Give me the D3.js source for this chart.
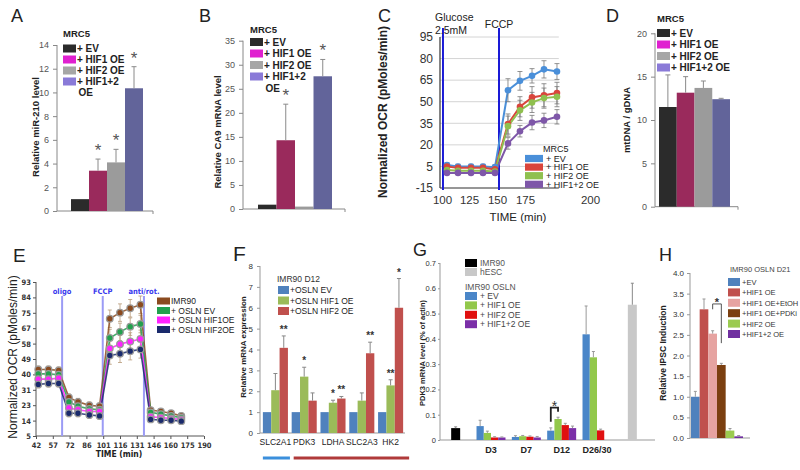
<!DOCTYPE html>
<html><head><meta charset="utf-8">
<script src="https://cdn.jsdelivr.net/npm/d3@7"></script>
<style>body{margin:0;background:#fff}svg{display:block;background:#fff}</style>
</head><body><svg id="chart" width="800" height="470"></svg>
<script>
// ================= DATA =================
// Panels A, B, D (MRC5)
const mrcGroups = ["+ EV", "+ HIF1 OE", "+ HIF2 OE", "+ HIF1+2 OE"];
const mrcBarColors = ["#2b2b2b", "#9a2a5c", "#9b9b9b", "#62649a"];
const mrcSwatchColors = ["#2b2b2b", "#e020d0", "#a6a6a6", "#8a7ad8"];

const mir210Values = [1.0, 3.4, 4.1, 10.35];
const mir210Errors = [0, 0.98, 1.1, 1.82];
const mir210Stars = ["", "*", "*", "*"];
const mir210Ticks = [0, 2, 4, 6, 8, 10, 12, 14];

const ca9Values = [0.9, 14.3, 0.5, 27.6];
const ca9Errors = [0, 7.5, 0, 3.5];
const ca9Stars = ["", "*", "", "*"];
const ca9Ticks = [0, 5, 10, 15, 20, 25, 30, 35];

const mtdnaValues = [11.5, 13.15, 13.7, 12.4];
const mtdnaErrors = [3.7, 1.85, 0.8, 0.1];
const mtdnaTicks = [0, 5, 10, 15, 20];

// Panel C (OCR, MRC5)
const ocrTimes = [104.6, 114.8, 126.8, 137.5, 148.2, 159.8, 170.5, 177.7, 182.3, 187.3];
const ocrEV = [6, 5, 5, 5, 4.5, 58, 64.5, 68, 72.5, 71];
const ocrHIF1 = [5, 4, 4, 4, 3, 34.5, 46.5, 53, 54.5, 56];
const ocrHIF2 = [2.5, 2, 2, 2, 1.5, 33, 44, 49.5, 52.5, 53.5];
const ocrHIF12 = [0.5, 0.5, 0.5, 0.5, 0.5, 21, 29.5, 35.5, 37, 39.5];
const ocrEVErr = [1.5, 1.5, 1.5, 1.5, 1.5, 8, 6.5, 5, 6, 5.5];
const ocrHIF1Err = [1.5, 1.5, 1.5, 1.5, 1.5, 7, 7, 7.5, 8, 7.5];
const ocrHIF2Err = [1, 1, 1, 1, 1, 7, 7, 7, 7, 7];
const ocrHIF12Err = [1, 1, 1, 1, 1, 4, 4, 5, 5, 5];
const ocrSeries = ["+ EV", "+ HIF1 OE", "+ HIF2 OE", "+ HIF1+2 OE"];
const ocrColors = ["#4a8fd9", "#d9453c", "#8fc04f", "#7e57a8"];
const ocrXTicks = [100, 125, 150, 175, 200];
const ocrYTicks = [95, 80, 65, 50, 35, 20, 5, -10];
const ocrYLabels = ["95", "80", "65", "50", "35", "20", "5", "-15"];
const ocrInjNames = ["Glucose", "FCCP"];
const ocrInjTimes = [100.9, 151.8];

// Panel E (OCR, IMR90 OSLN)
const eTimes = [44, 53, 62, 71, 79, 89, 98, 107, 116, 125, 134, 143, 152, 161, 170];
const eIMR90 = [43, 43, 42.5, 27, 24.5, 22.5, 22, 72, 75.5, 78, 80, 19.8, 19, 18, 16.5];
const eEV = [40.5, 40.5, 40, 24.5, 22, 20.5, 20, 61, 64.5, 67.5, 69, 18.5, 17.5, 16.5, 15.5];
const eHIF1 = [37.5, 37.5, 38, 21, 20, 19, 19, 55, 57.5, 59, 60.5, 16, 15.5, 15, 14.5];
const eHIF2 = [34.5, 35, 35, 18, 18, 17, 16.5, 51, 52, 53.5, 54.5, 14.5, 14, 14, 13.5];
const eErr = [2, 2, 2, 2, 2, 2, 2, 5, 5, 5, 5, 1.5, 1.5, 1.5, 1.5];
const eSeries = ["IMR90", "+ OSLN EV", "+ OSLN HIF1OE", "+ OSLN HIF2OE"];
const eColors = ["#8b4a1f", "#22a04e", "#ff22ff", "#1a2a6c"];
const eXTicks = [42, 56.8, 71.6, 86.4, 101.2, 116, 130.8, 145.6, 160.4, 175.2, 190];
const eYTicks = [5, 13.8, 22.6, 31.4, 40.2, 49, 57.8, 66.6, 75.4, 84.2, 93];
const eInjNames = ["oligo", "FCCP", "anti/rot."];
const eInjTimes = [65, 100.8, 137.1];

// Panel F
const fGenes = ["SLC2A1", "PDK3", "LDHA", "SLC2A3", "HK2"];
const fSeries = ["+OSLN EV", "+OSLN HIF1 OE", "+OSLN HIF2 OE"];
const fEV = [1, 1, 1, 1, 1];
const fHIF1 = [2.05, 2.7, 1.45, 1.55, 2.28];
const fHIF2 = [4.08, 1.55, 1.65, 3.82, 6.0];
const fEVErr = [0, 0, 0, 0, 0];
const fHIF1Err = [0.8, 0.45, 0.12, 0.37, 0.27];
const fHIF2Err = [0.57, 0.37, 0.1, 0.53, 1.4];
const fEVStars = ["", "", "", "", ""];
const fHIF1Stars = ["", "*", "*", "", "**"];
const fHIF2Stars = ["**", "", "**", "**", "*"];
const fColors = ["#4f81bd", "#9bbb59", "#c0504d"];
const fTicks = [0, 1, 2, 3, 4, 5, 6, 7, 8];

// Panel G
const gCats = ["IMR90", "D3", "D7", "D12", "D26/30", "hESC"];
const gDays = ["D3", "D7", "D12", "D26/30"];
const gSeries = ["+ EV", "+ HIF1 OE", "+ HIF2 OE", "+ HIF1+2 OE"];
const gEV = [0.055, 0.012, 0.037, 0.418];
const gHIF1 = [0.028, 0.015, 0.083, 0.327];
const gHIF2 = [0.01, 0.013, 0.059, 0.038];
const gHIF12 = [0.01, 0.01, 0.047, null];
const gEVErr = [0.023, 0.005, 0.011, 0.112];
const gHIF1Err = [0.007, 0.003, 0.007, 0.023];
const gHIF2Err = [0.003, 0.003, 0.007, 0.005];
const gHIF12Err = [0.002, 0.004, 0.008, null];
const gIMR90 = 0.047, gIMR90Err = 0.005;
const gHESC = 0.535, gHESCErr = 0.085;
const gColors = ["#4a86c8", "#92c84b", "#e01010", "#7b2fa8"];
const gTicks = [0, 0.1, 0.2, 0.3, 0.4, 0.5, 0.6, 0.7];

// Panel H
const hGroups = ["+EV", "+HIF1 OE", "+HIF1 OE+EtOH", "+HIF1 OE+PDKi", "+HIF2 OE", "+HIF1+2 OE"];
const hValues = [1.0, 3.12, 2.53, 1.77, 0.18, 0.04];
const hErrors = [0.13, 0.25, 0.07, 0.04, 0.05, 0.02];
const hColors = ["#4f81bd", "#c0504d", "#e6a3a1", "#7b3f10", "#9bcb50", "#7030a0"];
const hTicks = [0, 0.5, 1, 1.5, 2, 2.5, 3, 3.5, 4];

// ================= HELPERS =================
const svg = d3.select("#chart");
const SANS = '"Liberation Sans", Arial, Helvetica, sans-serif';
const NARROW = '"Liberation Sans Narrow", "Arial Narrow", "DejaVu Sans Condensed", "Liberation Sans", sans-serif';

function txt(g, x, y, s, o = {}) {
  return g.append("text").attr("x", x).attr("y", y).text(s)
    .attr("font-family", o.ff || SANS).attr("font-size", o.fs || 10)
    .attr("font-weight", o.fw || "normal").attr("fill", o.fill || "#222")
    .attr("text-anchor", o.anchor || "start");
}
function vtxt(g, x, y, s, o = {}) {
  return g.append("text").attr("transform", `translate(${x},${y}) rotate(-90)`)
    .attr("text-anchor", "middle").attr("dy", "0.35em").text(s)
    .attr("font-family", o.ff || SANS).attr("font-size", o.fs || 10)
    .attr("font-weight", o.fw || "bold").attr("fill", o.fill || "#222");
}
function styleAxis(sel, o = {}) {
  sel.select(".domain").remove();
  sel.selectAll(".tick line").attr("stroke", o.stroke || "#888");
  sel.selectAll(".tick text").attr("font-family", o.ff || SANS).attr("font-size", o.fs || 9)
    .attr("font-weight", o.fw || "normal").attr("fill", o.fill || "#444");
}
function hline(g, x1, x2, y, c, w = 1) {
  g.append("line").attr("x1", x1).attr("x2", x2).attr("y1", y).attr("y2", y).attr("stroke", c).attr("stroke-width", w);
}
function vline(g, x, y1, y2, c, w = 1) {
  g.append("line").attr("x1", x).attr("x2", x).attr("y1", y1).attr("y2", y2).attr("stroke", c).attr("stroke-width", w);
}
function errUp(g, cx, y1, y2, cap, c, w = 1) { vline(g, cx, y1, y2, c, w); hline(g, cx - cap / 2, cx + cap / 2, y2, c, w); }
function letter(s, x, y, fs = 18) { txt(svg, x, y, s, { fs: fs, fill: "#222" }); }

// ================= PANELS A, B, D =================
function mrcPanel(o) {
  const g = svg.append("g");
  const y = d3.scaleLinear().domain([0, o.ticks[o.ticks.length - 1]]).range([o.y0, o.yTop]);
  const x = d3.scaleBand().domain(mrcGroups).range(o.barRange);
  const ax = g.append("g").attr("transform", `translate(${o.axisX},0)`)
    .call(d3.axisLeft(y).tickValues(o.ticks).tickSize(4).tickPadding(4));
  styleAxis(ax, { fs: 9, fill: "#555" });
  vline(g, o.axisX, o.yTop, o.y0, "#888");
  hline(g, o.axisX, o.xEnd, o.y0, "#888");
  vline(g, o.xEnd, o.y0, o.y0 + 3, "#888");
  g.selectAll("rect.bar").data(o.values).join("rect").attr("class", "bar")
    .attr("x", (d, i) => x(mrcGroups[i])).attr("y", d => y(d))
    .attr("width", x.bandwidth()).attr("height", d => o.y0 - y(d))
    .attr("fill", (d, i) => mrcBarColors[i]);
  o.values.forEach((v, i) => {
    const cx = x(mrcGroups[i]) + x.bandwidth() / 2;
    const e = o.errors[i];
    if (e > 0) errUp(g, cx, y(v), y(v + e), 5, "#8a8a8a");
    if (o.stars && o.stars[i]) txt(g, cx, y(v + e) - 3, o.stars[i], { fs: 17, fill: "#555", anchor: "middle" });
  });
  vtxt(g, o.ylabX, o.ylabY, o.ylabel, { fs: 9.5 });
  txt(g, o.legX, o.titleY, "MRC5", { fs: 9.5, fw: "bold" });
  mrcGroups.forEach((s, i) => {
    const ry = o.legY0 + i * o.legDy;
    g.append("rect").attr("x", o.legX).attr("y", ry - 4).attr("width", 13).attr("height", 8).attr("fill", mrcSwatchColors[i]);
    if (o.wrap && i === mrcGroups.length - 1) {
      const k = s.lastIndexOf(" ");
      txt(g, o.legX + 14, ry + 3.5, s.slice(0, k), { fs: 10, fw: "bold" });
      txt(g, o.legX + 15.5, ry + 3.5 + o.legDy, s.slice(k + 1), { fs: 10, fw: "bold" });
    } else {
      txt(g, o.legX + 14, ry + 3.5, s, { fs: 10, fw: "bold" });
    }
  });
}

letter("A", 11, 22);
mrcPanel({ values: mir210Values, errors: mir210Errors, stars: mir210Stars, ticks: mir210Ticks,
  y0: 211, yTop: 45, axisX: 57, xEnd: 153, barRange: [71, 143],
  ylabel: "Relative miR-210 level", ylabX: 36, ylabY: 127,
  legX: 63, titleY: 37, legY0: 48.5, legDy: 11, wrap: true });

letter("B", 199, 22);
mrcPanel({ values: ca9Values, errors: ca9Errors, stars: ca9Stars, ticks: ca9Ticks,
  y0: 209, yTop: 40.7, axisX: 243, xEnd: 345, barRange: [258, 332],
  ylabel: "Relative CA9 mRNA level", ylabX: 218, ylabY: 132,
  legX: 250, titleY: 32.5, legY0: 42, legDy: 11.5, wrap: true });

letter("D", 606, 22);
mrcPanel({ values: mtdnaValues, errors: mtdnaErrors, stars: null, ticks: mtdnaTicks,
  y0: 206.7, yTop: 33.3, axisX: 655, xEnd: 738, barRange: [659, 730],
  ylabel: "mtDNA / gDNA", ylabX: 627, ylabY: 120,
  legX: 657, titleY: 21.5, legY0: 33, legDy: 11.5, wrap: false });

// ================= PANEL C =================
(function () {
  const g = svg.append("g");
  letter("C", 378, 22);
  const x = d3.scaleLinear().domain(ocrXTicks).range([442, 469, 497, 525, 590]);
  const y = d3.scaleLinear().domain([-10, 95]).range([188, 37]);
  ocrYTicks.forEach(t => hline(g, 440, x(188), y(t), "#d4d4d4"));
  const ay = g.append("g").attr("transform", "translate(440,0)")
    .call(d3.axisLeft(y).tickValues(ocrYTicks).tickFormat((d, i) => ocrYLabels[i]).tickSize(0).tickPadding(7));
  styleAxis(ay, { fs: 12, fill: "#333" });
  const axb = g.append("g").attr("transform", "translate(0,188)")
    .call(d3.axisBottom(x).tickValues(ocrXTicks).tickSize(0).tickPadding(8));
  styleAxis(axb, { fs: 11.5, fill: "#333" });
  vline(g, 440, 37, 188, "#333", 1.2);
  hline(g, 440, x(188), 188, "#444", 1);
  // injection lines
  ocrInjTimes.forEach(t => vline(g, x(t), 28, 190, "#1a1ad6", 2));
  txt(g, 435, 21, ocrInjNames[0], { fs: 10.5, fill: "#222" });
  txt(g, 435, 33.5, "2.5mM", { fs: 10.5, fill: "#222" });
  txt(g, x(ocrInjTimes[1]), 28, ocrInjNames[1], { fs: 10.5, fill: "#222", anchor: "middle" });
  // axis titles
  vtxt(g, 383, 112, "Normalized OCR (pMoles/min)", { fs: 12, fw: "bold", fill: "#222" });
  txt(g, 518, 221, "TIME (min)", { fs: 11.5, fill: "#222", anchor: "middle" });
  const series = [ocrEV, ocrHIF1, ocrHIF2, ocrHIF12];
  const errs = [ocrEVErr, ocrHIF1Err, ocrHIF2Err, ocrHIF12Err];
  const line = d3.line().x((d, i) => x(ocrTimes[i])).y(d => y(d));
  series.forEach((s, k) => {
    g.append("path").attr("d", line(s)).attr("fill", "none").attr("stroke", ocrColors[k]).attr("stroke-width", 2);
  });
  series.forEach((s, k) => {
    s.forEach((v, i) => {
      const cx = x(ocrTimes[i]);
      vline(g, cx, y(v - errs[k][i]), y(v + errs[k][i]), "#777", 0.8);
      hline(g, cx - 2.5, cx + 2.5, y(v + errs[k][i]), "#777", 0.8);
      hline(g, cx - 2.5, cx + 2.5, y(v - errs[k][i]), "#777", 0.8);
    });
  });
  series.forEach((s, k) => {
    g.selectAll(null).data(s).join("circle")
      .attr("cx", (d, i) => x(ocrTimes[i])).attr("cy", d => y(d)).attr("r", 3.3).attr("fill", ocrColors[k]);
  });
  // legend
  txt(g, 543, 152, "MRC5", { fs: 9, fill: "#222" });
  ocrSeries.forEach((s, i) => {
    const ry = 158.5 + i * 8.6;
    g.append("rect").attr("x", 525).attr("y", ry - 3.6).attr("width", 18).attr("height", 7.2).attr("fill", ocrColors[i]);
    txt(g, 546, ry + 3.2, s, { fs: 9, fill: "#222" });
  });
})();

// ================= PANEL E =================
(function () {
  const g = svg.append("g");
  letter("E", 13, 262, 19);
  const x = d3.scaleLinear().domain([42, 190]).range([36, 204]);
  const y = d3.scaleLinear().domain([5, 93]).range([436, 282]);
  const ay = g.append("g").attr("transform", "translate(36,0)")
    .call(d3.axisLeft(y).tickValues(eYTicks).tickFormat(d3.format(".0f")).tickSize(3).tickPadding(2));
  styleAxis(ay, { fs: 7.5, fw: "bold", ff: NARROW, fill: "#333", stroke: "#555" });
  const ax = g.append("g").attr("transform", "translate(0,436)")
    .call(d3.axisBottom(x).tickValues(eXTicks).tickFormat(d3.format(".0f")).tickSize(3).tickPadding(4));
  styleAxis(ax, { fs: 7.5, fw: "bold", ff: NARROW, fill: "#333", stroke: "#555" });
  vline(g, 36, 282, 436, "#555");
  hline(g, 36, 204, 436, "#555");
  eInjTimes.forEach((t, i) => {
    vline(g, x(t), 296, 436, "#9b9bf5", 2);
    txt(g, x(t), 294, eInjNames[i], { fs: 7.5, fw: "bold", ff: NARROW, fill: "#3a3aee", anchor: "middle" });
  });
  vtxt(g, 13, 357, "Normalized OCR (pMoles/min)", { fs: 12, fw: "normal", fill: "#222" });
  txt(g, 119, 457, "TIME (min)", { fs: 8.5, fw: "bold", ff: NARROW, fill: "#222", anchor: "middle" });
  const series = [eIMR90, eEV, eHIF1, eHIF2];
  const line = d3.line().x((d, i) => x(eTimes[i])).y(d => y(d));
  series.forEach((s, k) => {
    s.forEach((v, i) => {
      const cx = x(eTimes[i]);
      vline(g, cx, y(v - eErr[i]), y(v + eErr[i]), "#b89a78", 0.8);
      hline(g, cx - 2, cx + 2, y(v + eErr[i]), "#b89a78", 0.8);
      hline(g, cx - 2, cx + 2, y(v - eErr[i]), "#b89a78", 0.8);
    });
  });
  series.forEach((s, k) => {
    g.append("path").attr("d", line(s)).attr("fill", "none").attr("stroke", eColors[k]).attr("stroke-width", 1.6).attr("opacity", 0.85);
  });
  series.forEach((s, k) => {
    g.selectAll(null).data(s).join("circle")
      .attr("cx", (d, i) => x(eTimes[i])).attr("cy", d => y(d)).attr("r", 3.3)
      .attr("fill", eColors[k]).attr("stroke", "#9a9a9a").attr("stroke-width", 1.3);
  });
  eSeries.forEach((s, i) => {
    const ry = 301 + i * 9.5;
    g.append("rect").attr("x", 157).attr("y", ry - 3.5).attr("width", 13).attr("height", 7).attr("fill", eColors[i]);
    txt(g, 171, ry + 3.1, s, { fs: 8.5, fill: "#222" });
  });
})();

// ================= PANEL F =================
(function () {
  const g = svg.append("g");
  letter("F", 233, 261, 21);
  const y = d3.scaleLinear().domain([0, 8]).range([433, 266]);
  const x = d3.scaleBand().domain(fGenes).range([261, 405]).paddingInner(0.13).paddingOuter(0.065);
  const xi = d3.scaleBand().domain(fSeries).range([0, x.bandwidth()]);
  const ay = g.append("g").attr("transform", "translate(260,0)")
    .call(d3.axisLeft(y).tickValues(fTicks).tickSize(3).tickPadding(4));
  styleAxis(ay, { fs: 8, fill: "#333", stroke: "#999" });
  vline(g, 260, 266, 433, "#999");
  hline(g, 260, 405, 433, "#999");
  const ax = g.append("g").attr("transform", "translate(0,433)")
    .call(d3.axisBottom(x).tickSize(0).tickPadding(6));
  styleAxis(ax, { fs: 8.5, fill: "#222" });
  const vals = [fEV, fHIF1, fHIF2], errs = [fEVErr, fHIF1Err, fHIF2Err], stars = [fEVStars, fHIF1Stars, fHIF2Stars];
  vals.forEach((s, k) => {
    g.selectAll(null).data(s).join("rect")
      .attr("x", (d, i) => x(fGenes[i]) + xi(fSeries[k])).attr("y", d => y(d))
      .attr("width", xi.bandwidth()).attr("height", d => 433 - y(d)).attr("fill", fColors[k]);
  });
  vals.forEach((s, k) => s.forEach((v, i) => {
    const cx = x(fGenes[i]) + xi(fSeries[k]) + xi.bandwidth() / 2;
    const e = errs[k][i];
    if (e > 0) errUp(g, cx, y(v), y(v + e), 4, "#888");
    if (stars[k][i]) txt(g, cx, y(v + e) - 3, stars[k][i], { fs: 10, fw: "bold", fill: "#333", anchor: "middle" });
  }));
  vtxt(g, 243, 347, "Relative mRNA expression", { fs: 8, fw: "bold" });
  txt(g, 277, 282, "IMR90 D12", { fs: 8.5, fill: "#333" });
  fSeries.forEach((s, i) => {
    const ry = 290 + i * 10.5;
    g.append("rect").attr("x", 278).attr("y", ry - 4).attr("width", 11).attr("height", 8).attr("fill", fColors[i]);
    txt(g, 290, ry + 3.2, s, { fs: 8.5, fill: "#222" });
  });
  // bottom bars
  g.append("rect").attr("x", x("SLC2A1")).attr("y", 456.5).attr("width", x.bandwidth() + 2).attr("height", 3).attr("fill", "#3b8fdc");
  g.append("rect").attr("x", x("PDK3") + 2).attr("y", 456.5).attr("width", x("HK2") + x.bandwidth() - x("PDK3") + 4).attr("height", 3).attr("fill", "#b03a3a");
})();

// ================= PANEL G =================
(function () {
  const g = svg.append("g");
  letter("G", 413, 256);
  const y = d3.scaleLinear().domain([0, 0.7]).range([440, 263]);
  const x = d3.scaleBand().domain(gCats).range([438, 650]).paddingInner(0.18).paddingOuter(0.09);
  const xi = d3.scaleBand().domain(gSeries).range([0, x.bandwidth()]);
  const ay = g.append("g").attr("transform", "translate(440,0)")
    .call(d3.axisLeft(y).tickValues(gTicks).tickFormat(d => d === 0 ? "0" : d3.format(".1f")(d)).tickSize(2).tickPadding(2));
  styleAxis(ay, { fs: 7.5, fill: "#333", stroke: "#999" });
  vline(g, 440, 263, 440, "#999");
  hline(g, 440, 655, 440, "#999");
  const ax = g.append("g").attr("transform", "translate(0,440)")
    .call(d3.axisBottom(x).tickValues(gDays).tickSize(0).tickPadding(6.5));
  styleAxis(ax, { fs: 9, fw: "bold", fill: "#222" });
  const sw = 9;
  // single bars
  const singles = [["IMR90", gIMR90, gIMR90Err, "#000000"], ["hESC", gHESC, gHESCErr, "#c8c8c8"]];
  singles.forEach(([c, v, e, col]) => {
    const cx = x(c) + x.bandwidth() / 2;
    g.append("rect").attr("x", cx - sw / 2).attr("y", y(v)).attr("width", sw).attr("height", 440 - y(v)).attr("fill", col);
    errUp(g, cx, y(v), y(v + e), 3, "#888");
  });
  const vals = [gEV, gHIF1, gHIF2, gHIF12], errs = [gEVErr, gHIF1Err, gHIF2Err, gHIF12Err];
  vals.forEach((s, k) => s.forEach((v, i) => {
    if (v === null) return;
    const bx = x(gDays[i]) + xi(gSeries[k]);
    g.append("rect").attr("x", bx).attr("y", y(v)).attr("width", xi.bandwidth()).attr("height", 440 - y(v)).attr("fill", gColors[k]);
    errUp(g, bx + xi.bandwidth() / 2, y(v), y(v + errs[k][i]), 3, "#999");
  }));
  // bracket D12 EV vs HIF1
  const bx1 = x("D12") + xi("+ EV") + xi.bandwidth() / 2, bx2 = x("D12") + xi("+ HIF1 OE") + xi.bandwidth() / 2;
  g.append("path").attr("d", `M${bx1},${y(0.072)}V${y(0.128)}H${bx2}V${y(0.112)}`).attr("fill", "none").attr("stroke", "#222").attr("stroke-width", 1.8);
  txt(g, (bx1 + bx2) / 2, y(0.128) + 3, "*", { fs: 14, fill: "#333", anchor: "middle" });
  vtxt(g, 422, 353, "PDK3 mRNA level (% of actin)", { fs: 7.5, fw: "bold" });
  // legend
  const leg = [["IMR90", "#000000", 263], ["hESC", "#c8c8c8", 272]];
  leg.forEach(([s, c, ry]) => {
    g.append("rect").attr("x", 465).attr("y", ry - 4).attr("width", 12).attr("height", 8).attr("fill", c);
    txt(g, 480, ry + 3, s, { fs: 8.5, fill: "#555" });
  });
  txt(g, 465, 290, "IMR90 OSLN", { fs: 8.5, fill: "#555" });
  gSeries.forEach((s, i) => {
    const ry = 296 + i * 9.4;
    g.append("rect").attr("x", 465).attr("y", ry - 4).attr("width", 12).attr("height", 8).attr("fill", gColors[i]);
    txt(g, 480, ry + 3, s, { fs: 8.5, fill: "#444" });
  });
})();

// ================= PANEL H =================
(function () {
  const g = svg.append("g");
  letter("H", 659, 261);
  const y = d3.scaleLinear().domain([0, 4]).range([438, 273]);
  const x = d3.scaleBand().domain(hGroups).range([691, 743]);
  const ay = g.append("g").attr("transform", "translate(690,0)")
    .call(d3.axisLeft(y).tickValues(hTicks).tickSize(3).tickPadding(3));
  styleAxis(ay, { fs: 8, fill: "#333", stroke: "#999" });
  vline(g, 690, 273, 438, "#999");
  hline(g, 690, 750, 438, "#999");
  g.selectAll(null).data(hValues).join("rect")
    .attr("x", (d, i) => x(hGroups[i])).attr("y", d => y(d))
    .attr("width", x.bandwidth()).attr("height", d => 438 - y(d)).attr("fill", (d, i) => hColors[i]);
  hValues.forEach((v, i) => errUp(g, x(hGroups[i]) + x.bandwidth() / 2, y(v), y(v + hErrors[i]), 3, "#999"));
  const c1 = x("+HIF1 OE+EtOH") + x.bandwidth() / 2, c2 = x("+HIF1 OE+PDKi") + x.bandwidth() / 2;
  g.append("path").attr("d", `M${c1},${y(3.12)}V${y(3.25)}H${c2}V${y(2.3)}`).attr("fill", "none").attr("stroke", "#555").attr("stroke-width", 1);
  txt(g, (c1 + c2) / 2, y(3.25) + 2, "*", { fs: 11, fw: "bold", fill: "#333", anchor: "middle" });
  vtxt(g, 663, 353, "Relative IPSC Induction", { fs: 8.5, fw: "bold" });
  txt(g, 730, 272, "IMR90 OSLN D21", { fs: 7.5, fill: "#444" });
  hGroups.forEach((s, i) => {
    const ry = 282 + i * 10.4;
    g.append("rect").attr("x", 728).attr("y", ry - 4).attr("width", 12).attr("height", 8).attr("fill", hColors[i]);
    txt(g, 742, ry + 3, s, { fs: 7.5, fill: "#333" });
  });
})();
</script></body></html>
